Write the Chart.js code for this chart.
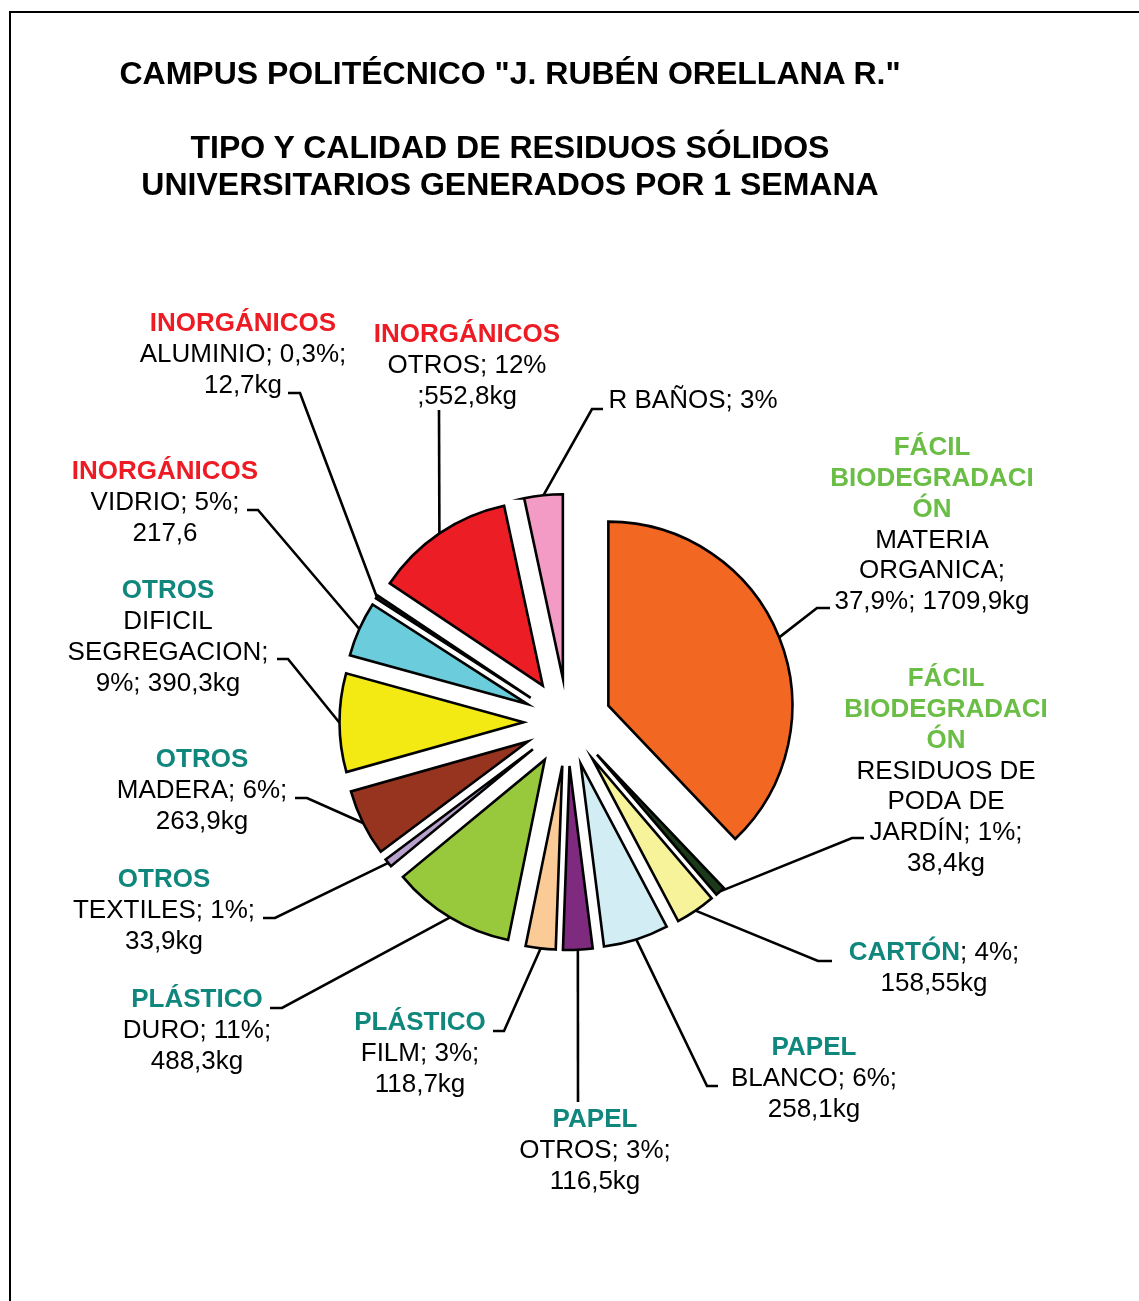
<!DOCTYPE html>
<html>
<head>
<meta charset="utf-8">
<script src="https://cdn.jsdelivr.net/npm/chart.js@4.4.1/dist/chart.umd.min.js"></script>
<style>
html,body{margin:0;padding:0;background:#fff;}
#wrap{position:relative;width:1139px;height:1301px;overflow:hidden;background:#fff;}
#frame{position:absolute;left:9px;top:11px;width:1300px;height:1500px;border-left:2px solid #000;border-top:2px solid #000;}
#c{position:absolute;left:0;top:0;}
.t{position:absolute;left:0;width:1020px;text-align:center;font:bold 32px "Liberation Sans",Arial,sans-serif;line-height:37px;color:#000;white-space:nowrap;}
</style>
</head>
<body>
<div id="wrap">
  <div id="frame"></div>
  <canvas id="c" width="1139" height="1301"></canvas>
  <div class="t" style="top:55px">CAMPUS POLITÉCNICO "J. RUBÉN ORELLANA R."</div>
  <div class="t" style="top:129px">TIPO Y CALIDAD DE RESIDUOS SÓLIDOS<br>UNIVERSITARIOS GENERADOS POR 1 SEMANA</div>
</div>
<script>
// ---- data ----
const categories = ['MATERIA ORGANICA','RESIDUOS DE PODA DE JARDÍN','CARTÓN','PAPEL BLANCO','PAPEL OTROS','PLÁSTICO FILM','PLÁSTICO DURO','TEXTILES','MADERA','DIFICIL SEGREGACION','VIDRIO','ALUMINIO','INORGÁNICOS OTROS','R BAÑOS'];
const kgValues = [1709.9, 38.4, 158.55, 258.1, 116.5, 118.7, 488.3, 33.9, 263.9, 390.3, 217.6, 12.7, 552.8, 152];
const sliceColors = ['#F26722','#1A3A1A','#F7F39A','#D2EDF3','#7E2A7E','#FBCB97','#98C93C','#B9A1CD','#963420','#F2EA12','#6BCCDB','#2A2A2A','#ED1D25','#F39BC5'];

// label text lines: each line = list of [text, kind]; kinds: r red bold, g green bold, t teal bold, n normal
const labelLines = [
  [[['FÁCIL','g']],[['BIODEGRADACI','g']],[['ÓN','g']],[['MATERIA','n']],[['ORGANICA;','n']],[['37,9%; 1709,9kg','n']]],
  [[['FÁCIL','g']],[['BIODEGRADACI','g']],[['ÓN','g']],[['RESIDUOS DE','n']],[['PODA DE','n']],[['JARDÍN; 1%;','n']],[['38,4kg','n']]],
  [[['CARTÓN','t'],['; 4%;','n']],[['158,55kg','n']]],
  [[['PAPEL','t']],[['BLANCO; 6%;','n']],[['258,1kg','n']]],
  [[['PAPEL','t']],[['OTROS; 3%;','n']],[['116,5kg','n']]],
  [[['PLÁSTICO','t']],[['FILM; 3%;','n']],[['118,7kg','n']]],
  [[['PLÁSTICO','t']],[['DURO; 11%;','n']],[['488,3kg','n']]],
  [[['OTROS','t']],[['TEXTILES; 1%;','n']],[['33,9kg','n']]],
  [[['OTROS','t']],[['MADERA; 6%;','n']],[['263,9kg','n']]],
  [[['OTROS','t']],[['DIFICIL','n']],[['SEGREGACION;','n']],[['9%; 390,3kg','n']]],
  [[['INORGÁNICOS','r']],[['VIDRIO; 5%;','n']],[['217,6','n']]],
  [[['INORGÁNICOS','r']],[['ALUMINIO; 0,3%;','n']],[['12,7kg','n']]],
  [[['INORGÁNICOS','r']],[['OTROS; 12%','n']],[[';552,8kg','n']]],
  [[['R BAÑOS; 3%','n']]]
];

// ---- layout (positions) ----
const labelPos = [ // [centerX, firstLineY]
  [932,448],[946,679],[934,953],[814,1048],[595,1120],[420,1023],[197,1000],
  [164,880],[202,760],[168,591],[165,472],[243,324],[467,335],[693,401]
];
const leaderPts = [ // [elbowX, elbowY, anchorX, anchorY]
  [817,608,830,608],[852,838,864,838],[818,961,832,961],[707,1086,718,1086],
  [578,1102,578,1102],[504,1031,493,1031],[282,1008,270,1008],[275,918,263,918],
  [307,798,295,798],[288,659,277,659],[258,510,247,510],[300,393,288,393],
  [439,410,439,410],[592,409,603,409]
];
const EXPLODE = 44;
const LINE_H = 30.8;
const FONT = '"Liberation Sans", Arial, sans-serif';
const kindStyle = {
  r:{font:'bold 26px '+FONT, color:'#ED1C24'},
  g:{font:'bold 26px '+FONT, color:'#6ABD45'},
  t:{font:'bold 26px '+FONT, color:'#10877D'},
  n:{font:'26px '+FONT, color:'#000000'}
};

const explodePlugin = {
  id:'explode',
  beforeDatasetsDraw(chart){
    const ctx = chart.ctx;
    const meta = chart.getDatasetMeta(0);
    ctx.save();
    ctx.strokeStyle = '#000';
    ctx.lineWidth = 2.6;
    ctx.lineJoin = 'miter';
    meta.data.forEach((arc,i)=>{
      const mid = (arc.startAngle+arc.endAngle)/2;
      const r = EXPLODE + arc.outerRadius;
      const x0 = arc.x + Math.cos(mid)*r, y0 = arc.y + Math.sin(mid)*r;
      const p = leaderPts[i];
      ctx.beginPath();
      ctx.moveTo(x0,y0);
      ctx.lineTo(p[0],p[1]);
      ctx.lineTo(p[2],p[3]);
      ctx.stroke();
    });
    ctx.restore();
  },
  beforeDatasetDraw(chart,args){
    const ctx = chart.ctx;
    args.meta.data.forEach(arc=>{
      const mid = (arc.startAngle+arc.endAngle)/2;
      ctx.save();
      ctx.translate(Math.cos(mid)*EXPLODE, Math.sin(mid)*EXPLODE);
      arc.draw(ctx);
      ctx.restore();
    });
    return false;
  },
  afterDraw(chart){
    const ctx = chart.ctx;
    ctx.save();
    ctx.textBaseline = 'middle';
    ctx.textAlign = 'left';
    labelLines.forEach((lines,i)=>{
      const [cx,y0] = labelPos[i];
      lines.forEach((segs,j)=>{
        let w = 0;
        segs.forEach(s=>{ctx.font = kindStyle[s[1]].font; w += ctx.measureText(s[0]).width;});
        let x = cx - w/2;
        const y = y0 + j*LINE_H;
        segs.forEach(s=>{
          const st = kindStyle[s[1]];
          ctx.font = st.font; ctx.fillStyle = st.color;
          ctx.fillText(s[0], x, y);
          x += ctx.measureText(s[0]).width;
        });
      });
    });
    ctx.restore();
  }
};

new Chart(document.getElementById('c'), {
  type:'pie',
  data:{
    labels:categories,
    datasets:[{
      data:kgValues,
      backgroundColor:sliceColors,
      borderColor:'#000',
      borderWidth:2.6,
      borderJoinStyle:'miter',
      offset:0
    }]
  },
  options:{
    responsive:false,
    animation:false,
    devicePixelRatio:1,
    radius:184,
    layout:{padding:{left:100,right:104,top:300,bottom:157}},
    plugins:{legend:{display:false},tooltip:{enabled:false},title:{display:false}}
  },
  plugins:[explodePlugin]
});
</script>
</body>
</html>
